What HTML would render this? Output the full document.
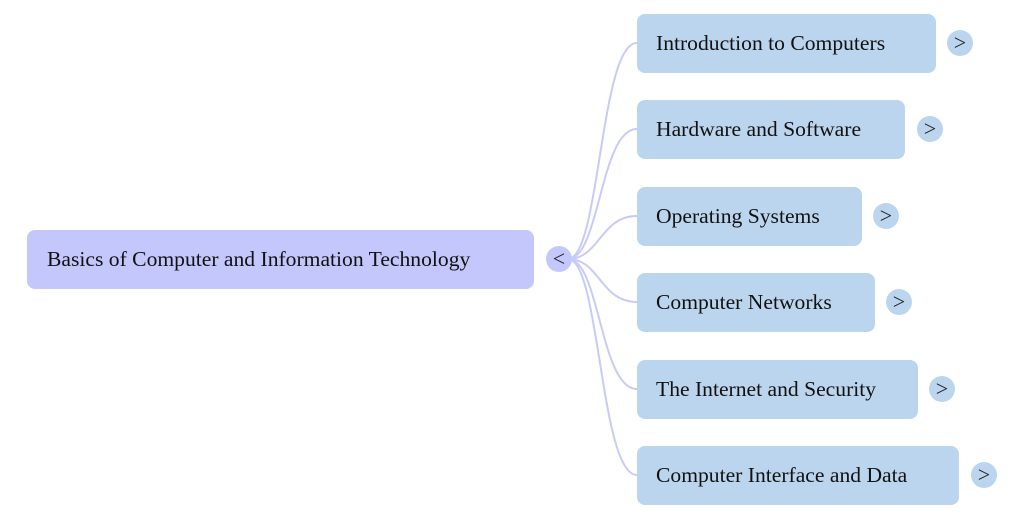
<!DOCTYPE html>
<html><head><meta charset="utf-8"><style>
body{margin:0;background:#fff;width:1024px;height:520px;overflow:hidden;position:relative;font-family:"Liberation Serif",serif;}
.n{position:absolute;background:#bcd5ee;border-radius:8px;height:59px;line-height:58px;font-size:21.6px;color:#111;padding-left:19px;box-sizing:border-box;white-space:nowrap;}
.r{background:#c3c7fc;padding-left:20px;}
.c{position:absolute;width:26px;height:26px;border-radius:50%;background:#bcd5ee;font-size:22px;line-height:25px;text-align:center;color:#222;}
</style></head><body>
<svg width="1024" height="520" style="position:absolute;left:0;top:0">
<g fill="none" stroke="#c8cbf8" stroke-width="2">
<path d="M568,259 C600,259 600,43 637,43"/>
<path d="M568,259 C600,259 600,129 637,129"/>
<path d="M568,259 C600,259 600,216 637,216"/>
<path d="M568,259 C600,259 600,302 637,302"/>
<path d="M568,259 C600,259 600,389 637,389"/>
<path d="M568,259 C600,259 600,475 637,475"/>
</g></svg>
<div class="n r" style="left:27px;top:230px;width:507px">Basics of Computer and Information Technology</div>
<div class="c" style="left:546px;top:246px;background:#c3c7fc">&lt;</div>
<div class="n" style="left:637px;top:14px;width:299px">Introduction to Computers</div>
<div class="c" style="left:947px;top:30px">&gt;</div>
<div class="n" style="left:637px;top:100px;width:268px">Hardware and Software</div>
<div class="c" style="left:917px;top:116px">&gt;</div>
<div class="n" style="left:637px;top:187px;width:225px">Operating Systems</div>
<div class="c" style="left:873px;top:203px">&gt;</div>
<div class="n" style="left:637px;top:273px;width:238px">Computer Networks</div>
<div class="c" style="left:886px;top:289px">&gt;</div>
<div class="n" style="left:637px;top:360px;width:281px">The Internet and Security</div>
<div class="c" style="left:929px;top:376px">&gt;</div>
<div class="n" style="left:637px;top:446px;width:322px">Computer Interface and Data</div>
<div class="c" style="left:971px;top:462px">&gt;</div>
</body></html>
